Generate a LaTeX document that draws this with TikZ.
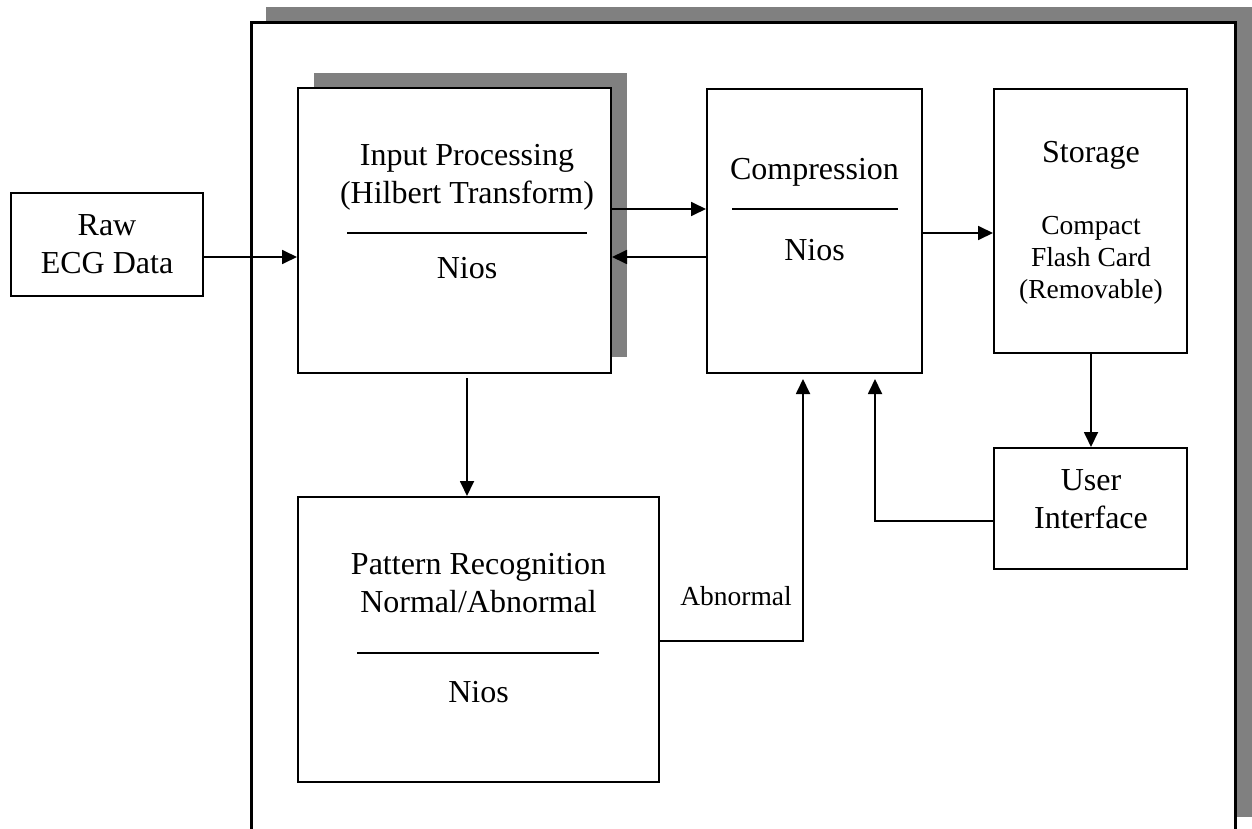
\documentclass[tikz,border=0pt]{standalone}
\usepackage{fontspec}
\setmainfont{Liberation Serif}
\usetikzlibrary{arrows.meta,calc}
\definecolor{shadowgray}{RGB}{128,128,128}
\tikzset{
  box/.style={draw=black, line width=1pt, fill=white, inner sep=0pt},
  frame/.style={draw=black, line width=1.5pt, fill=white},
  shade/.style={fill=shadowgray, draw=none},
  arr/.style={draw=black, line width=0.9pt, -{Triangle[length=7.5pt,width=7pt]}},
  conn/.style={draw=black, line width=0.9pt},
  big/.style={font=\fontsize{16}{19}\selectfont, align=center, inner sep=0pt},
  small/.style={font=\fontsize{13.75}{16}\selectfont, align=center, inner sep=0pt},
  rule/.style={draw=black, line width=0.9pt}
}
\begin{document}
\begin{tikzpicture}[x=0.5pt, y=-0.5pt]
\useasboundingbox (0,0) rectangle (1252,829);
% outer frame with shadow
\fill[shade] (266,7) rectangle (1254,817);
\draw[frame] (251,23) rectangle (1235,840);
% input processing shadow
\fill[shade] (314,73) rectangle (627,357);
% boxes
\node[box, minimum width=96pt, minimum height=51.5pt] (raw) at (107,244.5) {};
\node[box, minimum width=156.5pt, minimum height=142.5pt] (inp) at (454.5,230.5) {};
\node[box, minimum width=107.5pt, minimum height=142pt] (comp) at (814.5,231) {};
\node[box, minimum width=96.5pt, minimum height=132pt] (stor) at (1090.5,221) {};
\node[box, minimum width=96.5pt, minimum height=60.5pt] (ui) at (1090.5,508.5) {};
\node[box, minimum width=180.5pt, minimum height=142.5pt] (pat) at (478.5,639.5) {};
% texts
\node[big] (rawt) at (107,244) {Raw\\ECG Data};
\node[big] (inpt) at (467,177) {Input Processing\\(Hilbert Transform)};
\node[big] (inpn) at (467,268) {Nios};
\node[big] (compt) at (814.5,172) {Compression};
\node[big] (compn) at (814.5,250) {Nios};
\node[big] (stort) at (1091,155) {Storage};
\node[small] (stors) at (1091,260) {Compact\\Flash Card\\(Removable)};
\node[big] (uit) at (1091,499) {User\\Interface};
\node[big] (patt) at (478.5,583) {Pattern Recognition\\Normal/Abnormal};
\node[big] (patn) at (478.5,692) {Nios};
\node[font=\fontsize{13.75}{16}\selectfont, inner sep=0pt] (abn) at (736,596) {Abnormal};
% divider rules
\draw[rule] (347,233) -- (587,233);
\draw[rule] (732,209) -- (898,209);
\draw[rule] (357,653) -- (599,653);
% connector levels
\coordinate (y257) at (0,257);
\coordinate (y209) at (0,209);
\coordinate (y233) at (0,233);
\coordinate (x467) at (467,0);
\coordinate (x1091) at (1091,0);
\coordinate (y521) at (0,521);
\coordinate (y641) at (0,641);
\coordinate (c1) at (875,521);
\coordinate (c2) at (803,641);
% arrows
\draw[arr] (raw.east |- y257) -- (inp.west |- y257);
\draw[arr] (inp.east |- y209) -- (comp.west |- y209);
\draw[arr] (comp.west |- y257) -- (inp.east |- y257);
\draw[arr] (comp.east |- y233) -- (stor.west |- y233);
\draw[arr] (stor.south -| x1091) -- (ui.north -| x1091);
\draw[arr, shorten <=2pt] (inp.south -| x467) -- (pat.north -| x467);
\draw[arr, shorten >=2.5pt] (ui.west |- y521) -- (c1) -- (comp.south -| c1);
\draw[arr, shorten >=2.5pt] (pat.east |- y641) -- (c2) -- (comp.south -| c2);
\end{tikzpicture}
\end{document}
